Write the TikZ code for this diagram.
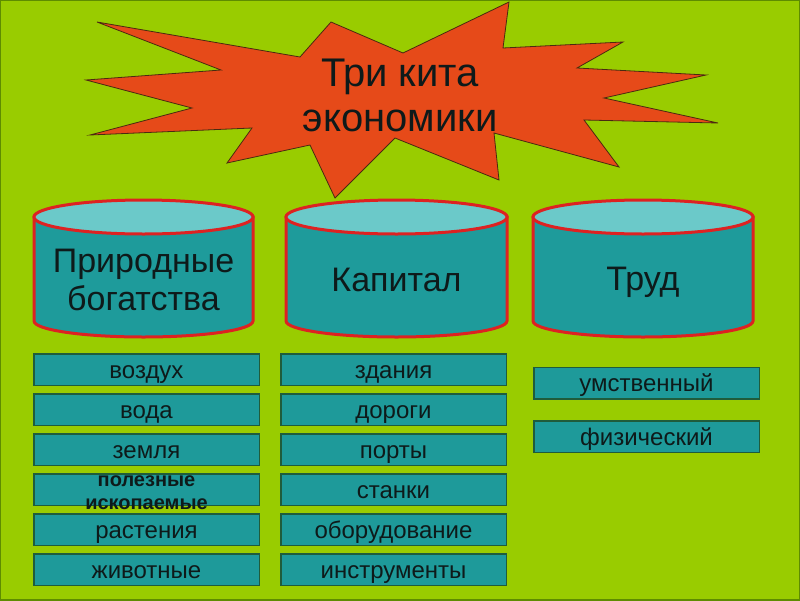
\documentclass[tikz,border=0pt]{standalone}
\usepackage{fontspec}
\setmainfont{Liberation Sans}
\usetikzlibrary{positioning}
\definecolor{slidegreen}{HTML}{99CC00}
\definecolor{framegreen}{HTML}{5E8C00}
\definecolor{burstred}{HTML}{E64A19}
\definecolor{burstline}{HTML}{4A2A10}
\definecolor{barrelbody}{HTML}{1E9B9B}
\definecolor{barreltop}{HTML}{6BC9C9}
\definecolor{barrelrim}{HTML}{DD2222}
\definecolor{itemfill}{HTML}{1E9A9A}
\definecolor{itemrim}{HTML}{1F5C3C}
\definecolor{ink}{HTML}{0E1A1A}
\tikzstyle{burst} = [fill=burstred, draw=burstline, line width=0.8pt, line join=miter]
\tikzstyle{barrel} = [fill=barrelbody, draw=barrelrim, line width=3pt]
\tikzstyle{lid} = [fill=barreltop, draw=barrelrim, line width=3pt]
\tikzstyle{title} = [text=ink, align=center, inner sep=0pt]
\tikzstyle{item} = [rectangle, draw=itemrim, line width=1.5pt, fill=itemfill, text=ink, minimum width=225.5pt, minimum height=31.5pt, inner sep=0pt, text height=22pt, text depth=5pt, font=\fontsize{24}{24}\selectfont]

\begin{document}
\begin{tikzpicture}[x=1pt, y=1pt, node distance=40pt]
      \useasboundingbox (0,0) rectangle (800,-600);
      % Background
      \fill[slidegreen] (0,0) rectangle (800,-600);
      \draw[framegreen, line width=2pt] (0,0) rectangle (800,-600);

      % Barrels
      \path[barrel] (34,-217) -- (34,-321) arc[start angle=180, end angle=360, x radius=109.5, y radius=16] -- (253,-217) -- cycle;
      \path[lid] (143.5,-217) ellipse [x radius=109.5, y radius=17];
      \path[barrel] (286,-217) -- (286,-321) arc[start angle=180, end angle=360, x radius=110.5, y radius=16] -- (507,-217) -- cycle;
      \path[lid] (396.5,-217) ellipse [x radius=110.5, y radius=17];
      \path[barrel] (533,-217) -- (533,-321) arc[start angle=180, end angle=360, x radius=110, y radius=16] -- (753,-217) -- cycle;
      \path[lid] (643,-217) ellipse [x radius=110, y radius=17];

      % Burst
      \path[burst] (509,-2) -- (503,-48) -- (623,-42) -- (577,-68) -- (706,-75) -- (604,-98)
        -- (718,-123) -- (584,-120) -- (619,-167) -- (494,-133) -- (499,-180) -- (395,-138)
        -- (335,-198) -- (310,-145) -- (227,-163) -- (252,-128) -- (90,-135) -- (192,-108)
        -- (86,-80) -- (221,-70) -- (97,-22) -- (300,-57) -- (331,-22) -- (403,-53) -- cycle;

      % Titles
      \node [title, font=\fontsize{40}{45}\selectfont] (kity) at (400,-95) {Три кита\\экономики};
      \node [title, font=\fontsize{34}{38}\selectfont] (prirodnye) at (143.5,-280) {Природные\\богатства};
      \node [title, font=\fontsize{34}{38}\selectfont, anchor=base] (kapital) at (396.5,-291) {Капитал};
      \node [title, font=\fontsize{34}{38}\selectfont, anchor=base] (trud) at (643,-290) {Труд};

      % Natural resources
      \node [item] (vozduh) at (146.5,-369.5) {воздух};
      \node [item, below of=vozduh] (voda) {вода};
      \node [item, below of=voda] (zemlya) {земля};
      \node [item, below of=zemlya] (iskop) {};
      \node [title, font=\bfseries\fontsize{20}{23}\selectfont] (iskoptext) at ([yshift=-3.5pt]iskop.center) {полезные\\ископаемые};
      \node [item, below of=iskop] (rasteniya) {растения};
      \node [item, below of=rasteniya] (zhivotnye) {животные};

      % Capital
      \node [item] (zdaniya) at (393.5,-369.5) {здания};
      \node [item, below of=zdaniya] (dorogi) {дороги};
      \node [item, below of=dorogi] (porty) {порты};
      \node [item, below of=porty] (stanki) {станки};
      \node [item, below of=stanki] (oborud) {оборудование};
      \node [item, below of=oborud] (instrum) {инструменты};

      % Labour
      \node [item] (umstv) at (646.5,-383) {умственный};
      \node [item, below of=umstv, node distance=53.5pt] (fizich) {физический};
\end{tikzpicture}
\end{document}
